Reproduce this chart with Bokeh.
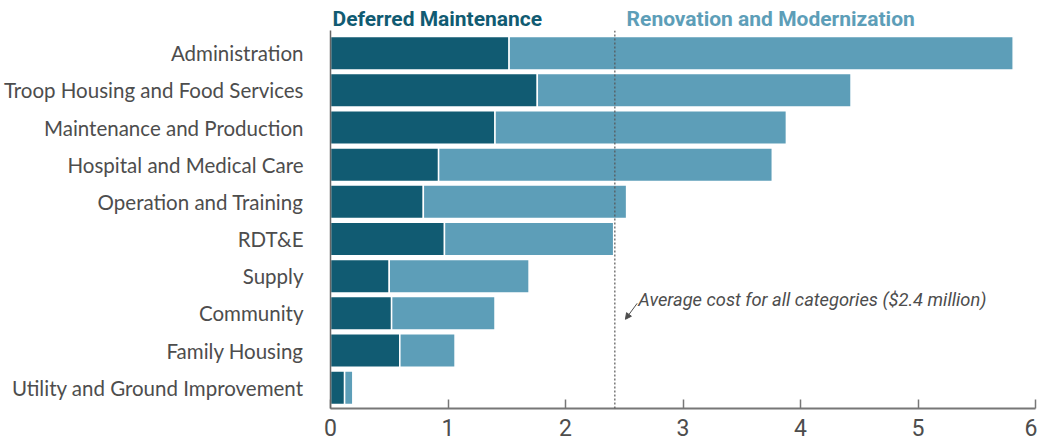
from bokeh.plotting import figure
from bokeh.layouts import column
from bokeh.models import Range1d, FixedTicker, Span, Label, Arrow, NormalHead, ColumnDataSource
from bokeh.core.properties import value
from bokeh.embed import file_html
from bokeh.resources import INLINE

categories = ["Administration", "Troop Housing and Food Services", "Maintenance and Production",
              "Hospital and Medical Care", "Operation and Training", "RDT&E", "Supply",
              "Community", "Family Housing", "Utility and Ground Improvement"]
deferred = [1.52, 1.76, 1.40, 0.92, 0.79, 0.97, 0.50, 0.52, 0.59, 0.12]
renovation = [4.29, 2.67, 2.48, 2.84, 1.73, 1.44, 1.19, 0.88, 0.47, 0.07]
series_names = ["Deferred Maintenance", "Renovation and Modernization"]
average_cost = 2.42
x_ticks = [0, 1, 2, 3, 4, 5, 6]

DARK = "#115b72"
LIGHT = "#5d9eb8"
GRAY = "#4d4d4d"

n = len(categories)
ypos = [n - 1 - i for i in range(n)]
totals = [d + r for d, r in zip(deferred, renovation)]
src = ColumnDataSource(dict(y=ypos, dm=deferred, tot=totals, zero=[0] * n))

xr = Range1d(0, 6)

# header strip with the series names
h = figure(width=1037, height=30, output_backend="svg", toolbar_location=None,
           x_range=xr, y_range=Range1d(0, 1),
           min_border_left=330, min_border_right=2, min_border_top=0, min_border_bottom=0)
h.axis.visible = False
h.grid.visible = False
h.outline_line_color = None
h.text(x=[0, 2.52], y=[0.38, 0.38], text=series_names, x_offset=[2, 0],
       text_color=[DARK, LIGHT], text_font=value("Roboto"), text_font_style="bold",
       text_font_size="21px", text_baseline="middle", text_align="left")

p = figure(width=1037, height=415, output_backend="svg", toolbar_location=None,
           x_range=xr, y_range=Range1d(-0.56, n - 0.39),
           min_border_left=330, min_border_right=2, min_border_top=0, min_border_bottom=37)
p.outline_line_color = None
p.xgrid.grid_line_color = None
p.ygrid.grid_line_color = None
p.background_fill_color = "white"
p.border_fill_color = "white"

p.hbar(y="y", left="zero", right="dm", height=0.9, source=src,
       fill_color=DARK, line_color="white", line_width=1.5)
p.hbar(y="y", left="dm", right="tot", height=0.9, source=src,
       fill_color=LIGHT, line_color="white", line_width=1.5)

p.add_layout(Span(location=average_cost, dimension="height", line_color="#555555",
                  line_dash="2 2", line_width=1.2))

# y axis (categories)
p.yaxis.ticker = FixedTicker(ticks=ypos)
p.yaxis.major_label_overrides = {y: c for y, c in zip(ypos, categories)}
p.yaxis.axis_line_color = "#666666"
p.yaxis.axis_line_width = 1.5
p.yaxis.major_tick_line_color = None
p.yaxis.minor_tick_line_color = None
p.yaxis.major_label_standoff = 21
p.yaxis.major_label_text_font = "Lato"
p.yaxis.major_label_text_font_size = "20.5px"
p.yaxis.major_label_text_color = GRAY

# x axis
p.xaxis.ticker = FixedTicker(ticks=x_ticks)
p.xaxis.axis_line_color = "#777777"
p.xaxis.axis_line_width = 2
p.xaxis.major_tick_in = 9
p.xaxis.major_tick_out = 0
p.xaxis.major_tick_line_color = "#777777"
p.xaxis.major_tick_line_width = 1.5
p.xaxis.minor_tick_line_color = None
p.xaxis.major_label_standoff = 10
p.xaxis.major_label_text_font = "Roboto"
p.xaxis.major_label_text_font_size = "23px"
p.xaxis.major_label_text_color = GRAY

# annotation
p.add_layout(Label(x=2.62, y=2.37, text="Average cost for all categories ($2.4 million)",
                   text_font="Roboto", text_font_style="italic",
                   text_font_size="18.3px", text_color=GRAY, text_baseline="middle"))
p.add_layout(Arrow(x_start=2.61, y_start=2.27, x_end=2.51, y_end=1.84,
                   line_color=GRAY, line_width=1,
                   end=NormalHead(size=6, fill_color=GRAY, line_color=GRAY)))

layout = column(h, p, spacing=0)
open("out.html", "w").write(file_html(layout, INLINE))
